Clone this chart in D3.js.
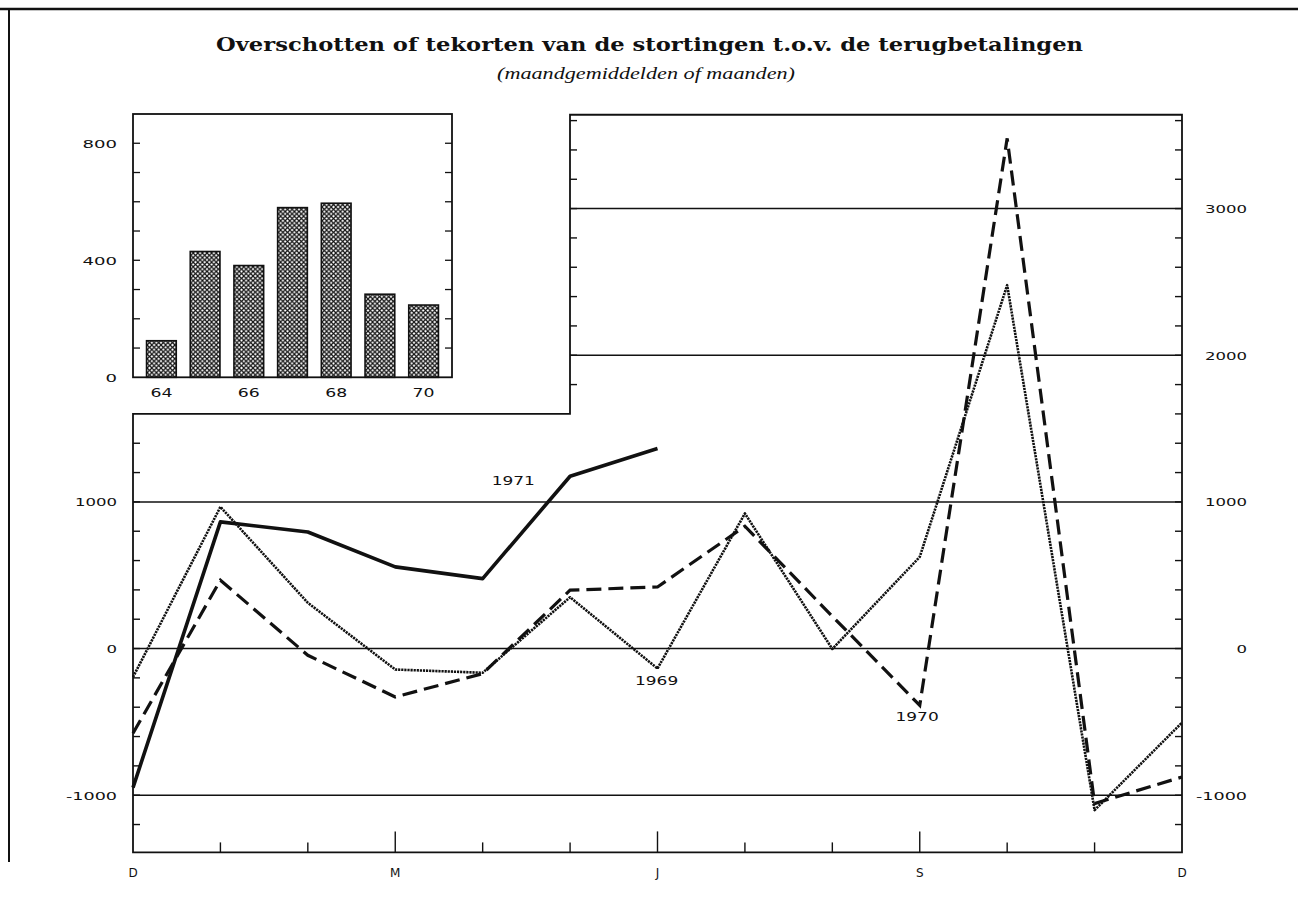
<!DOCTYPE html>
<html>
<head>
<meta charset="utf-8">
<script src="https://cdn.jsdelivr.net/npm/d3@7"></script>
<style>
  html, body { margin: 0; padding: 0; background: #fff; }
  svg { display: block; }
  .lbl { font-family: "DejaVu Sans", sans-serif; fill: #111; }
</style>
</head>
<body>
<svg id="chart" width="1298" height="898"></svg>
<script>
// ---------- DATA ----------
const months = ["D","J","F","M","A","M","J","J","A","S","O","N","D"];
const monthLabelIdx = [0, 3, 6, 9, 12];
const series1969 = [-195, 966, 312, -143, -165, 350, -136, 921, -3, 625, 2478, -1102, -505];
const series1970 = [-578, 466, -46, -330, -171, 398, 420, 834, 220, -387, 3479, -1057, -876];
const series1971 = [-948, 864, 795, 557, 477, 1175, 1364];
const years = ["64","65","66","67","68","69","70"];
const yearValues = [125, 430, 382, 580, 595, 284, 247];
const yearLabels = ["64","66","68","70"];
const leftTickLabels = [1000, 0, -1000];
const rightTickLabels = [3000, 2000, 1000, 0, -1000];
const insetTickLabels = [800, 400, 0];
const gridLeft = [1000, 0, -1000];
const gridRight = [3000, 2000];
const title = "Overschotten of tekorten van de stortingen t.o.v. de terugbetalingen";
const subtitle = "(maandgemiddelden of maanden)";

// ---------- SETUP ----------
const svg = d3.select("#chart");
const ink = "#111";

const x = d3.scalePoint().domain(d3.range(months.length)).range([133, 1182]);
const y = d3.scaleLinear().domain([-1000, 1000]).range([795.2, 501.9]);
const yBottom = -1390, yTop = 3640, yLeftTop = 1600;
const xSplit = 570;

// page border
svg.append("line").attr("x1", 0).attr("x2", 1298).attr("y1", 9).attr("y2", 9)
  .attr("stroke", ink).attr("stroke-width", 2.5);
svg.append("line").attr("x1", 9).attr("x2", 9).attr("y1", 9).attr("y2", 862)
  .attr("stroke", ink).attr("stroke-width", 2);

// title
svg.append("text").attr("x", 649.5).attr("y", 51).attr("text-anchor", "middle")
  .attr("font-family", "DejaVu Serif, serif").attr("font-weight", "bold").attr("font-size", 19)
  .attr("textLength", 867).attr("lengthAdjust", "spacingAndGlyphs").attr("fill", ink)
  .text(title);
svg.append("text").attr("x", 646).attr("y", 79).attr("text-anchor", "middle")
  .attr("font-family", "Liberation Serif, serif").attr("font-style", "italic").attr("font-size", 16)
  .attr("textLength", 298).attr("lengthAdjust", "spacingAndGlyphs").attr("fill", ink)
  .text(subtitle);

// ---------- MAIN FRAME ----------
const frame = d3.path();
frame.moveTo(x(0), y(yLeftTop));
frame.lineTo(x(0), y(yBottom));
frame.lineTo(x(12), y(yBottom));
frame.lineTo(x(12), y(yTop));
frame.lineTo(xSplit, y(yTop));
frame.lineTo(xSplit, y(yLeftTop));
frame.closePath();
svg.append("path").attr("d", frame.toString()).attr("fill", "none")
  .attr("stroke", ink).attr("stroke-width", 1.8);

// gridlines
svg.selectAll(".gl").data(gridLeft).join("line")
  .attr("x1", x(0)).attr("x2", x(12)).attr("y1", d => y(d)).attr("y2", d => y(d))
  .attr("stroke", ink).attr("stroke-width", 1.5);
svg.selectAll(".gr").data(gridRight).join("line")
  .attr("x1", xSplit).attr("x2", x(12)).attr("y1", d => y(d)).attr("y2", d => y(d))
  .attr("stroke", ink).attr("stroke-width", 1.5);

// y minor ticks (every 200)
const leftTicks = d3.range(-1200, 1600, 200);
svg.selectAll(".lt").data(leftTicks).join("line")
  .attr("x1", x(0)).attr("x2", x(0) + 7).attr("y1", d => y(d)).attr("y2", d => y(d))
  .attr("stroke", ink).attr("stroke-width", 1.4);
const rightTicks = d3.range(-1200, 3700, 200);
svg.selectAll(".rt").data(rightTicks).join("line")
  .attr("x1", x(12)).attr("x2", x(12) - 7).attr("y1", d => y(d)).attr("y2", d => y(d))
  .attr("stroke", ink).attr("stroke-width", 1.4);
const splitTicks = d3.range(1800, 3700, 200);
svg.selectAll(".st").data(splitTicks).join("line")
  .attr("x1", xSplit).attr("x2", xSplit + 7).attr("y1", d => y(d)).attr("y2", d => y(d))
  .attr("stroke", ink).attr("stroke-width", 1.4);

// x ticks
svg.selectAll(".xt").data(d3.range(1, months.length - 1)).join("line")
  .attr("x1", d => x(d)).attr("x2", d => x(d))
  .attr("y1", y(yBottom)).attr("y2", d => y(yBottom) - (monthLabelIdx.includes(d) ? 21 : 10))
  .attr("stroke", ink).attr("stroke-width", 1.4);

// helper for wide labels
function numLabel(sel, s, size, perChar) {
  const w = s.split("").reduce((a, c) => a + (c === "-" ? 9 : perChar), 0);
  sel.attr("textLength", w).attr("lengthAdjust", "spacingAndGlyphs").text(s);
}

// x labels
svg.selectAll(".xl").data(monthLabelIdx).join("text").attr("class", "lbl")
  .attr("x", d => x(d)).attr("y", 876.5).attr("text-anchor", "middle")
  .attr("font-size", 12)
  .text(d => months[d]);

// left labels
svg.selectAll(".yl").data(leftTickLabels).join("text").attr("class", "lbl")
  .attr("x", 117).attr("y", d => y(d) + 4.5).attr("text-anchor", "end").attr("font-size", 11)
  .each(function(d) { numLabel(d3.select(this), d < 0 ? "-" + Math.abs(d) : String(d), 11, 10.5); });
// right labels
svg.selectAll(".yr").data(rightTickLabels).join("text").attr("class", "lbl")
  .attr("x", 1247).attr("y", d => y(d) + 4.5).attr("text-anchor", "end").attr("font-size", 11)
  .each(function(d) { numLabel(d3.select(this), d < 0 ? "-" + Math.abs(d) : String(d), 11, 10.5); });

// ---------- LINES ----------
const line = d3.line().x((d, i) => x(i)).y(d => y(d));
svg.append("path").datum(series1969).attr("d", line).attr("fill", "none")
  .attr("stroke", ink).attr("stroke-width", 2.6).attr("stroke-dasharray", "2.2,0.9")
  .attr("stroke-linejoin", "round");
svg.append("path").datum(series1970).attr("d", line).attr("fill", "none")
  .attr("stroke", ink).attr("stroke-width", 3.2).attr("stroke-dasharray", "15,7")
  .attr("stroke-linejoin", "miter");
svg.append("path").datum(series1971).attr("d", line).attr("fill", "none")
  .attr("stroke", ink).attr("stroke-width", 3.6).attr("stroke-linejoin", "round");

// series labels
const seriesLabels = [
  { t: "1971", xi: 4.35, v: 1115 },
  { t: "1969", xi: 5.99, v: -250 },
  { t: "1970", xi: 8.97, v: -495 }
];
svg.selectAll(".sl").data(seriesLabels).join("text").attr("class", "lbl")
  .attr("x", d => x(Math.floor(d.xi)) + (d.xi - Math.floor(d.xi)) * (x(1) - x(0)))
  .attr("y", d => y(d.v)).attr("text-anchor", "middle").attr("font-size", 12)
  .each(function(d) { numLabel(d3.select(this), d.t, 12, 10.8); });

// ---------- INSET BAR CHART ----------
const ix0 = 133, ix1 = 452;
const iy = d3.scaleLinear().domain([0, 900]).range([377.3, 114]);
const bx = d3.scaleBand().domain(years).range([ix0, ix1]).paddingInner(0.32).paddingOuter(0.31);

const defs = svg.append("defs");
const pat = defs.append("pattern").attr("id", "hatch").attr("patternUnits", "userSpaceOnUse")
  .attr("width", 4.6).attr("height", 4.6);
pat.append("rect").attr("width", 4.6).attr("height", 4.6).attr("fill", "#fff");
pat.append("path").attr("d", "M0,0 L4.6,4.6 M-1,3.6 L1,5.6 M3.6,-1 L5.6,1").attr("stroke", ink).attr("stroke-width", 1.2);
pat.append("path").attr("d", "M0,4.6 L4.6,0 M-1,1 L1,-1 M3.6,5.6 L5.6,3.6").attr("stroke", ink).attr("stroke-width", 1.2);

svg.selectAll(".bar").data(years).join("rect")
  .attr("x", d => bx(d)).attr("width", bx.bandwidth())
  .attr("y", (d, i) => iy(yearValues[i])).attr("height", (d, i) => iy(0) - iy(yearValues[i]))
  .attr("fill", "url(#hatch)").attr("stroke", ink).attr("stroke-width", 1.6);

// inset frame
svg.append("rect").attr("x", ix0).attr("y", iy(900)).attr("width", ix1 - ix0).attr("height", iy(0) - iy(900))
  .attr("fill", "none").attr("stroke", ink).attr("stroke-width", 1.8);

const insetTicks = d3.range(100, 900, 100);
svg.selectAll(".ilt").data(insetTicks).join("line")
  .attr("x1", ix0).attr("x2", ix0 + 7).attr("y1", d => iy(d)).attr("y2", d => iy(d))
  .attr("stroke", ink).attr("stroke-width", 1.3);
svg.selectAll(".irt").data(insetTicks).join("line")
  .attr("x1", ix1).attr("x2", ix1 - 7).attr("y1", d => iy(d)).attr("y2", d => iy(d))
  .attr("stroke", ink).attr("stroke-width", 1.3);

svg.selectAll(".iyl").data(insetTickLabels).join("text").attr("class", "lbl")
  .attr("x", 117).attr("y", d => iy(d) + 4.5).attr("text-anchor", "end").attr("font-size", 11)
  .each(function(d) { numLabel(d3.select(this), String(d), 11, 11.5); });

svg.selectAll(".ixl").data(yearLabels).join("text").attr("class", "lbl")
  .attr("x", d => bx(d) + bx.bandwidth() / 2).attr("y", 397).attr("text-anchor", "middle")
  .attr("font-size", 12)
  .each(function(d) { numLabel(d3.select(this), d, 12, 11); });
</script>
</body>
</html>
